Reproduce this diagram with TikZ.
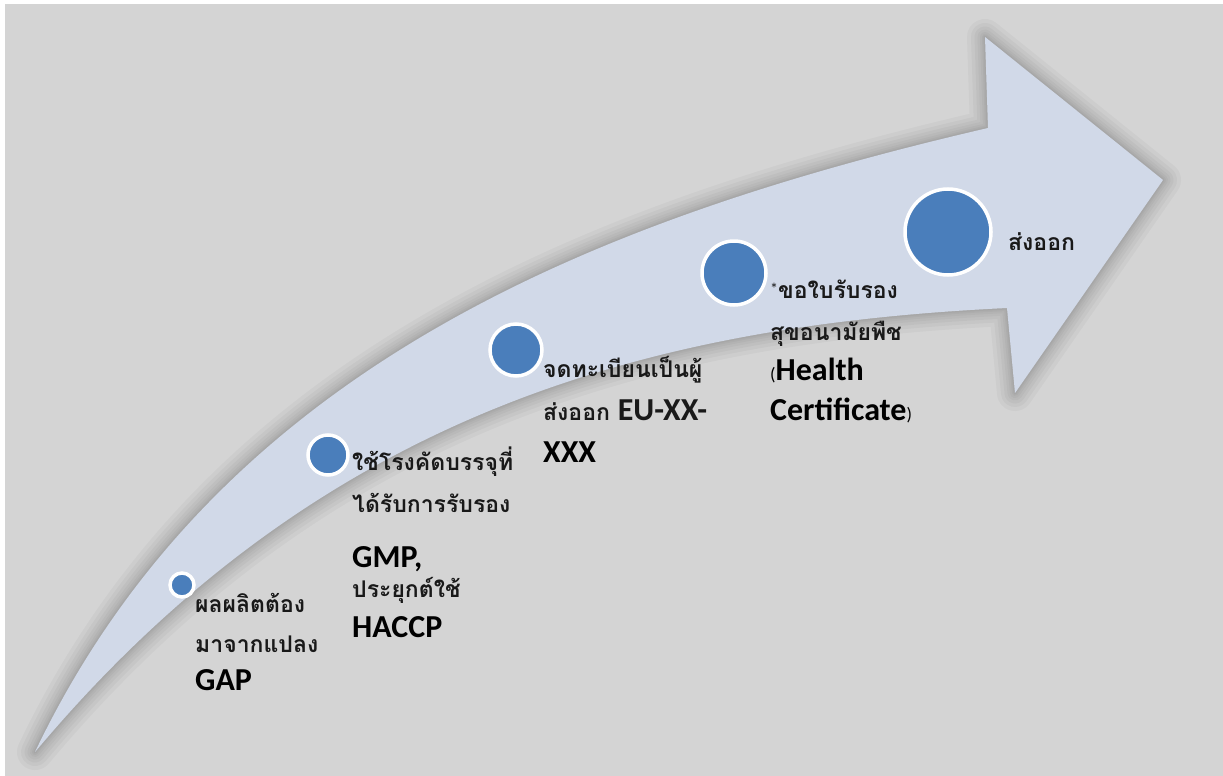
\documentclass[tikz,border=0pt]{standalone}
\usepackage{fontspec}
\setmainfont{Carlito}
\newfontfamily\thai[Script=Thai]{Loma}
\newfontfamily\lat{Carlito}
\definecolor{bggray}{HTML}{D4D4D4}
\definecolor{arrowfill}{HTML}{D1D9E8}
\definecolor{dotblue}{HTML}{4A7EBB}
\tikzset{
  dot/.style={circle, fill=dotblue, draw=white, line width=3.5pt, inner sep=0pt},
  thline/.style={anchor=base west, inner sep=0pt, font=\thai\bfseries\fontsize{23}{27}\selectfont, text=black!90},
  ltline/.style={anchor=base west, inner sep=0pt, font=\lat\bfseries\fontsize{32}{36}\selectfont, text=black},
  glow/.style={draw=black, draw opacity=0.03, line join=round}
}
\begin{document}
\begin{tikzpicture}[x=1pt, y=-1pt]
\useasboundingbox (0,0) rectangle (1223,776);
\fill[white] (0,0) rectangle (1223,776);
\fill[bggray] (5,4) rectangle (1223,776);
% arrow outline
\path[save path=\arrowP] (35,752) .. controls (220,365) and (600,218) .. (988,128)
  -- (985,37) -- (1163,180) -- (1015,393) -- (1007,308)
  .. controls (650,325) and (320,412) .. cycle;
\begin{scope}[shift={(5,5)}]
\foreach \w in {36,28,21,15,10,6,3} {
  \draw[glow, line width=\w pt, use path=\arrowP];
}
\end{scope}
\fill[arrowfill, use path=\arrowP];
% dots
\node[dot, minimum size=24pt] (d1) at (182,585) {};
\node[dot, minimum size=40pt] (d2) at (328,455) {};
\node[dot, minimum size=52pt] (d3) at (516,350) {};
\node[dot, minimum size=64pt] (d4) at (734,273) {};
\node[dot, minimum size=86pt] (d5) at (948,232) {};
% text 1
\node[thline] (t1a) at (195,612) {ผลผลิตต้อง};
\node[thline] (t1b) at (195,652) {มาจากแปลง};
\node[ltline] (t1c) at (195,690) {GAP};
% text 2
\node[thline] (t2a) at (352,470) {ใช้โรงคัดบรรจุที่};
\node[thline] (t2b) at (352,512) {ได้รับการรับรอง};
\node[ltline] (t2c) at (352,567) {GMP,};
\node[thline] (t2d) at (352,597) {ประยุกต์ใช้};
\node[ltline] (t2e) at (352,637) {HACCP};
% text 3
\node[thline] (t3a) at (543,377) {จดทะเบียนเป็นผู้};
\node[thline] (t3b) at (543,420) {ส่งออก {\lat\bfseries\fontsize{32}{36}\selectfont EU-XX-}};
\node[ltline] (t3c) at (543,462) {XXX};
% text 4
\node[thline] (t4a) at (770,298) {\raisebox{4pt}{\lat\mdseries\fontsize{16}{18}\selectfont *}ขอใบรับรอง};
\node[thline] (t4b) at (770,340) {สุขอนามัยพืช};
\node[ltline] (t4c) at (770,380) {{\lat\mdseries\fontsize{18}{20}\selectfont (}Health};
\node[ltline] (t4d) at (770,420) {Certificate{\lat\mdseries\fontsize{18}{20}\selectfont )}};
% text 5
\node[thline] (t5) at (1008,250) {ส่งออก};
\end{tikzpicture}
\end{document}
